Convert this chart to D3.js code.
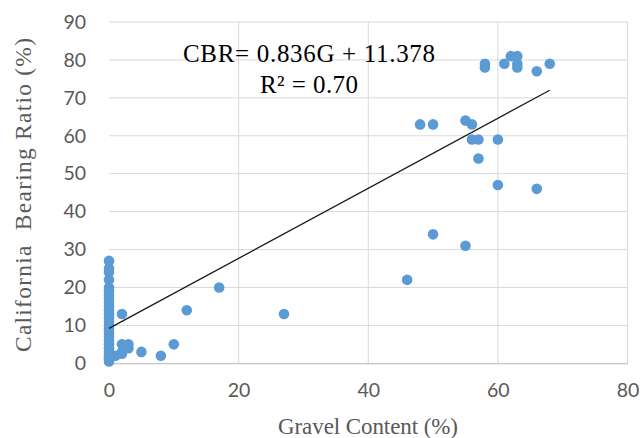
<!DOCTYPE html>
<html><head><meta charset="utf-8">
<script src="https://cdn.jsdelivr.net/npm/d3@7"></script>
<style>body{margin:0;background:#fff}</style>
</head><body>
<svg id="chart" width="642" height="438"></svg>
<script>
const gravel = [0,0,0,0,0,0,0,0,0,0,0,0,0,0,0,0,0,0,0,0,0,0,0,0,0,0,
  1,2,2,2,3,3,5,8,10,2,12,17,27,
  46,50,55,48,50,55,56,56,57,57,60,60,66,
  58,58,61,62,63,63,63,66,68];
const cbr = [27,25,24,22,20,19,18,17,16,15,14,13,12,11,10,9,8,7,6,5,4,3,2,1.5,1,0.5,
  2,3,5,2.5,4,5,3,2,5,13,14,20,13,
  22,34,31,63,63,64,63,59,59,54,59,47,46,
  79,78,79,81,81,79,78,77,79];
const trendX = [0, 68];
const trendY = [9.2, 72.0];
const xTicks = [0,20,40,60,80];
const yTicks = [0,10,20,30,40,50,60,70,80,90];
const eqLines = ["CBR= 0.836G + 11.378", "R\u00B2 = 0.70"];
const xTitle = "Gravel Content (%)";
const yTitle = "California  Bearing Ratio (%)";

const svg = d3.select("#chart");
const x = d3.scaleLinear().domain([0,80]).range([109,627.5]);
const y = d3.scaleLinear().domain([0,90]).range([363.3,22]);

const grid = svg.append("g");
grid.selectAll("line.h").data(yTicks).join("line")
  .attr("x1", x(0)).attr("x2", x(80)).attr("y1", d=>y(d)).attr("y2", d=>y(d))
  .attr("stroke", "#d9d9d9").attr("stroke-width", 1);
grid.selectAll("line.v").data(xTicks.slice(1)).join("line")
  .attr("y1", y(0)).attr("y2", y(90)).attr("x1", d=>x(d)).attr("x2", d=>x(d))
  .attr("stroke", "#d9d9d9").attr("stroke-width", 1);

const xAxis = svg.append("g").attr("transform", `translate(0,${y(0)})`)
  .call(d3.axisBottom(x).tickValues(xTicks).tickSize(0).tickPadding(20));
xAxis.select(".domain").attr("stroke", "#bfbfbf");
xAxis.selectAll("text").attr("font-family", "Lato, 'Open Sans', sans-serif")
  .attr("font-size", 19.5).attr("fill", "#595959");

const yAxis = svg.append("g").attr("transform", `translate(${x(0)},0)`)
  .call(d3.axisLeft(y).tickValues(yTicks).tickSize(0).tickPadding(23));
yAxis.select(".domain").remove();
yAxis.selectAll("text").attr("font-family", "Lato, 'Open Sans', sans-serif")
  .attr("font-size", 19.5).attr("fill", "#595959");

svg.append("g").selectAll("circle").data(gravel.map((g,i)=>[g,cbr[i]])).join("circle")
  .attr("cx", d=>x(d[0])).attr("cy", d=>y(d[1])).attr("r", 5.3)
  .attr("fill", "#5b9bd5");

svg.append("line")
  .attr("x1", x(trendX[0])).attr("y1", y(trendY[0]))
  .attr("x2", x(trendX[1])).attr("y2", y(trendY[1]))
  .attr("stroke", "#1a1a1a").attr("stroke-width", 1.3);

svg.append("text").attr("x", 183).attr("y", 62).text(eqLines[0])
  .attr("font-family", "'Liberation Serif', serif").attr("font-size", 25)
  .attr("textLength", 252).attr("lengthAdjust", "spacing").attr("fill", "#000");
svg.append("text").attr("x", 260).attr("y", 93).text(eqLines[1])
  .attr("font-family", "'Liberation Serif', serif").attr("font-size", 25)
  .attr("textLength", 98).attr("lengthAdjust", "spacing").attr("fill", "#000");

svg.append("text").attr("x", 278).attr("y", 434).text(xTitle)
  .attr("font-family", "'Liberation Serif', serif").attr("font-size", 23)
  .attr("textLength", 180).attr("lengthAdjust", "spacing").attr("fill", "#595959");
svg.append("text").attr("transform", "translate(31,352) rotate(-90)").text(yTitle)
  .attr("font-family", "'Liberation Serif', serif").attr("font-size", 23.5)
  .attr("textLength", 314).attr("lengthAdjust", "spacing").attr("fill", "#595959")
  .style("white-space", "pre");
</script>
</body></html>
